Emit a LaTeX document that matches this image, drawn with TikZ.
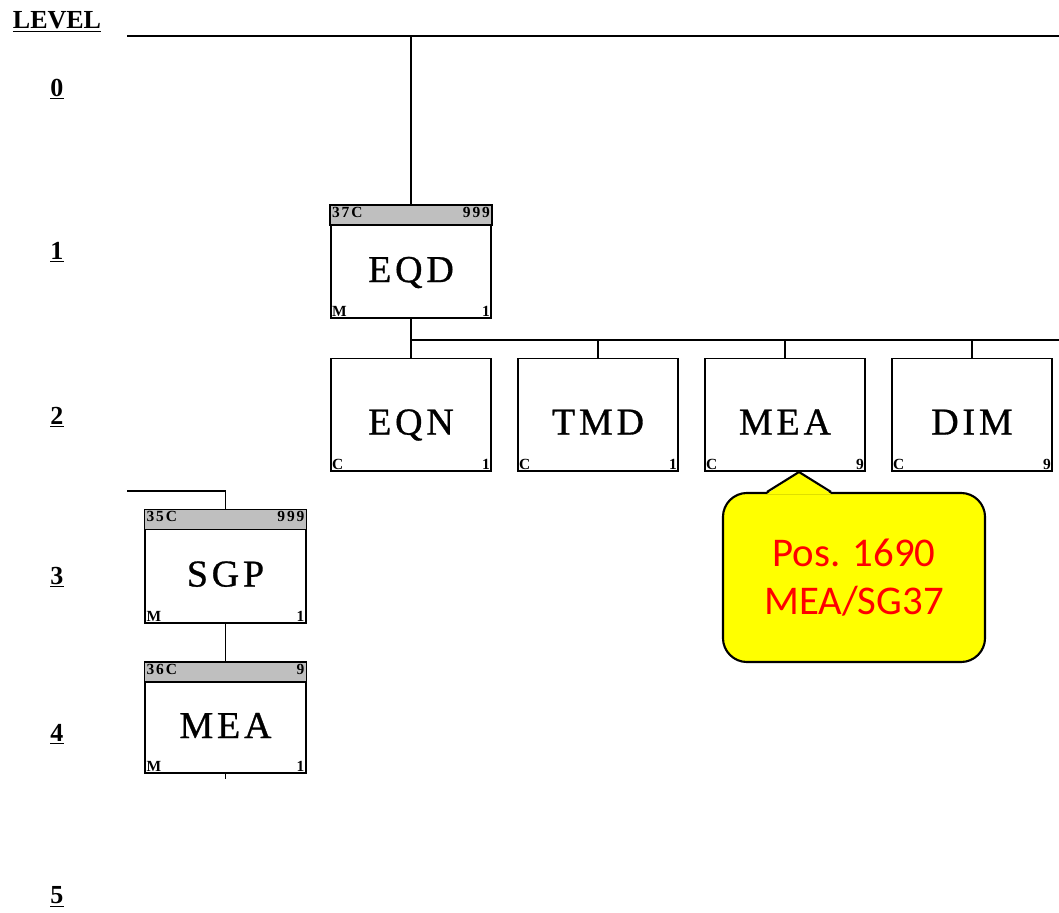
\documentclass[tikz,border=0pt]{standalone}
\usepackage{fontspec}
\setmainfont{Liberation Serif}
\newfontfamily\namefont[LetterSpace=10, FakeBold=0.8]{Liberation Serif}
\newfontfamily\tagfont[LetterSpace=12]{Liberation Serif}
\newfontfamily\notefont{Carlito}
\usetikzlibrary{positioning,calc}
\definecolor{noteyellow}{RGB}{255,255,0}
\definecolor{notered}{RGB}{255,0,0}

\begin{document}
\begin{tikzpicture}[x=0.025cm, y=-0.025cm,
  unit/.style={draw, line width=1.4pt, minimum width=4cm, minimum height=2.8cm, inner sep=0pt,
    font=\namefont\fontsize{27}{30}\selectfont, text height=1cm, text depth=0pt},
  hdr/.style={draw, line width=1.4pt, fill=black!25},
  tag/.style={font=\tagfont\bfseries\fontsize{11}{12}\selectfont, inner sep=1.3pt},
  lvl/.style={font=\bfseries\fontsize{18.5}{20}\selectfont},
  link/.style={line width=1.1pt},
  callout/.style={draw, line width=1.5pt, fill=noteyellow, rounded corners=0.6cm,
    minimum width=6.55cm, minimum height=4.225cm, align=center,
    text=notered, font=\notefont\fontsize{29}{34}\selectfont}
]
\useasboundingbox (0,0) rectangle (1059,913);

% level column
\node[lvl] (level) at (57,22) {\underline{LEVEL}};
\foreach \i/\y in {0/89,1/252,2/417,3/577,4/734,5/897}
  \node[lvl] (lvl\i) at (57,\y) {\underline{\i}};

% units
\node[unit] (eqd) at (411,262) {EQD};
\node[unit] (eqn) at (411,414.5) {EQN};
\node[unit] (tmd) at (598,414.5) {TMD};
\node[unit] (meaC) at (785,414.5) {MEA};
\node[unit] (dim) at (972,414.5) {DIM};
\node[unit] (sgp) at (225.5,566.5) {SGP};
\node[unit, minimum height=2.75cm] (mea4) at (225.5,718) {MEA};

\foreach \n/\l/\r in {eqd/37C/999, sgp/35C/999, mea4/36C/9}{
  \draw[hdr] (\n.north west) rectangle ([yshift=-0.5cm]\n.north east);
  \node[tag, anchor=north west] (\n-tl) at (\n.north west) {\l};
  \node[tag, anchor=north east] (\n-tr) at (\n.north east) {\r};
}
\foreach \n/\l/\r in {eqd/M/1, eqn/C/1, tmd/C/1, meaC/C/9, dim/C/9, sgp/M/1, mea4/M/1}{
  \node[tag, anchor=south west] (\n-bl) at (\n.south west) {\l};
  \node[tag, anchor=south east] (\n-br) at (\n.south east) {\r};
}

% connectors
\coordinate (top0) at (127,36);
\coordinate (top1) at (1059,36);
\coordinate (bar2) at (1059,340);
\coordinate (left3) at (127,491);
\draw[link] (top0) -- (top1);
\draw[link] (eqd.north) -- (eqd.north |- top0);
\draw[link] (eqd.south) |- (bar2);
\foreach \n in {eqn,tmd,meaC,dim}
  \draw[link] (\n.north) -- (\n.north |- bar2);
\draw[link] (left3) -| (sgp.north);
\draw[link] (sgp.south) -- (mea4.north);
\draw[link] (mea4.south) -- ++(0,5);

% note
\node[callout] (note) at (854,577.5) {Pos. 1690\\MEA/SG37};
\coordinate (tip) at (799,472);
\fill[noteyellow] ($(note.north)+(-87,2)$) -- (tip) -- ($(note.north)+(-23,2)$) -- cycle;
\draw[line width=1.5pt, line join=round] ($(note.north)+(-87,0)$) -- (tip) -- ($(note.north)+(-23,0)$);
\end{tikzpicture}
\end{document}
